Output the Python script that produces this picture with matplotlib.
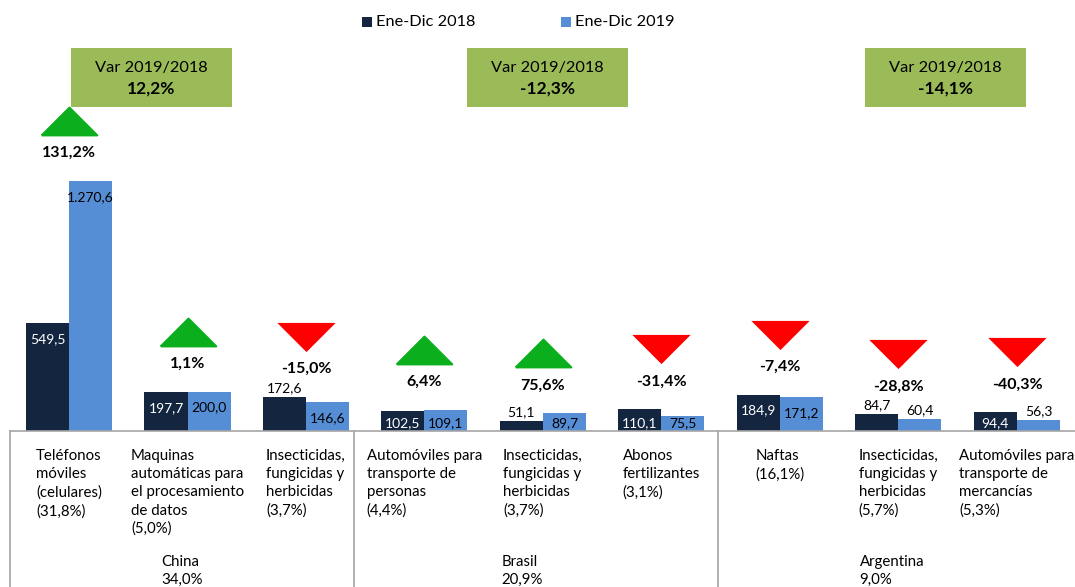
import matplotlib
matplotlib.use("Agg")
import matplotlib.pyplot as plt
from matplotlib.patches import Rectangle
from matplotlib.lines import Line2D
from matplotlib.path import Path

plt.rcParams['font.family'] = ['Lato', 'DejaVu Sans']

# ---------------- data ----------------
categories = [
    "Teléfonos\nmóviles\n(celulares)\n(31,8%)",
    "Maquinas\nautomáticas para\nel procesamiento\nde datos\n(5,0%)",
    "Insecticidas,\nfungicidas y\nherbicidas\n(3,7%)",
    "Automóviles para\ntransporte de\npersonas\n(4,4%)",
    "Insecticidas,\nfungicidas y\nherbicidas\n(3,7%)",
    "Abonos\nfertilizantes\n(3,1%)",
    "Naftas\n(16,1%)",
    "Insecticidas,\nfungicidas y\nherbicidas\n(5,7%)",
    "Automóviles para\ntransporte de\nmercancías\n(5,3%)",
]
values_2018 = [549.5, 197.7, 172.6, 102.5, 51.1, 110.1, 184.9, 84.7, 94.4]
values_2019 = [1270.6, 200.0, 146.6, 109.1, 89.7, 75.5, 171.2, 60.4, 56.3]
pct_change = [131.2, 1.1, -15.0, 6.4, 75.6, -31.4, -7.4, -28.8, -40.3]
countries = ["China", "Brasil", "Argentina"]
country_share = [34.0, 20.9, 9.0]
country_var = [12.2, -12.3, -14.1]
series_names = ["Ene-Dic 2018", "Ene-Dic 2019"]

# label placement (layout only)
above_2018 = [False, False, True, False, True, False, False, True, False]
above_2019 = [False, False, False, False, False, False, False, True, True]

DARK = "#13253F"
LIGHT = "#558ED5"
GREEN = "#0BAE1C"
RED = "#FF0000"
BOXGREEN = "#9BBB59"
GRID = "#A6A6A6"

W, H = 1075, 587
fig = plt.figure(figsize=(W / 100, H / 100), dpi=100)


def fx(px):
    return px / W


def fy(py):
    return 1 - py / H


base_py = 431
ax = fig.add_axes([fx(10), fy(base_py), fx(1075) - fx(10), 1 - fy(base_py)])
ymax = 2190
ax.set_ylim(0, ymax)
ax.set_xlim(-0.498, 8.49)
ax.axis("off")


def fmt(v, dec=1):
    s = f"{v:,.{dec}f}"
    return s.replace(",", "X").replace(".", ",").replace("X", ".")


unit_per_px = ymax / base_py
bw = 0.363
xs = list(range(len(categories)))
x18 = [x - bw / 2 for x in xs]
x19 = [x + bw / 2 for x in xs]
ax.bar(x18, values_2018, width=bw, color=DARK, zorder=2)
ax.bar(x19, values_2019, width=bw, color=LIGHT, zorder=2)


def bar_label(x, v, above, color_inside):
    if above:
        y = v + 9 * unit_per_px
        c = "black"
    else:
        y = max(v - 16 * unit_per_px, 8 * unit_per_px)
        c = color_inside
    ax.text(x, y, fmt(v), ha="center", va="center", fontsize=10, color=c, zorder=3)


for i in xs:
    bar_label(x18[i], values_2018[i], above_2018[i], "white")
    bar_label(x19[i], values_2019[i], above_2019[i], "black")

# triangles + pct labels
up = Path([(-1, -0.5), (1, -0.5), (0, 0.5), (-1, -0.5)])
down = Path([(-1, 0.5), (1, 0.5), (0, -0.5), (-1, 0.5)])
for i in xs:
    top = max(values_2018[i], values_2019[i])
    yt = top + 60 * unit_per_px
    yl = top + 28 * unit_per_px
    if pct_change[i] >= 0:
        ax.scatter([xs[i]], [yt], marker=up, s=40 ** 2, color=GREEN,
                   edgecolors=GREEN, linewidths=1.5, zorder=3, clip_on=False)
    else:
        ax.scatter([xs[i]], [yt], marker=down, s=42 ** 2, color=RED,
                   edgecolors=RED, linewidths=0, zorder=3, clip_on=False)
    ax.text(xs[i], yl, fmt(pct_change[i]) + "%", ha="center", va="center",
            fontsize=11.5, fontweight="bold", color="black", zorder=3)

# category labels under axis
for i in xs:
    ax.text(xs[i], -18 * unit_per_px, categories[i], ha="center", va="top",
            multialignment="left", fontsize=10.8, linespacing=1.38,
            color="black", clip_on=False)

# frame lines
fig.add_artist(Line2D([fx(10), fx(1075)], [fy(base_py), fy(base_py)], color=GRID, lw=1.2))
for px in [10, 354, 718]:
    fig.add_artist(Line2D([fx(px), fx(px)], [fy(base_py), fy(587)], color=GRID, lw=1.2))

# country labels
for cx, name, share in zip([182, 522, 892], countries, country_share):
    fig.text(fx(cx), fy(555), f"{name}\n{fmt(share)}%", ha="center", va="top",
             multialignment="left", fontsize=10.8, linespacing=1.38)

# var boxes
for cx, v in zip([151.5, 547.5, 945.5], country_var):
    fig.add_artist(Rectangle((fx(cx - 80.5), fy(107)), 161 / W, 59 / H,
                             facecolor=BOXGREEN, edgecolor="none"))
    fig.text(fx(cx), fy(68), "Var 2019/2018", ha="center", va="center", fontsize=11.8)
    fig.text(fx(cx), fy(89), fmt(v) + "%", ha="center", va="center",
             fontsize=12.5, fontweight="bold")

# legend
for lx, col, name in zip([362, 561], [DARK, LIGHT], series_names):
    fig.add_artist(Rectangle((fx(lx), fy(27)), 10 / W, 10 / H, facecolor=col, edgecolor="none"))
    fig.text(fx(lx + 14), fy(22), name, ha="left", va="center", fontsize=11.8)

fig.savefig("out.png", dpi=100)
